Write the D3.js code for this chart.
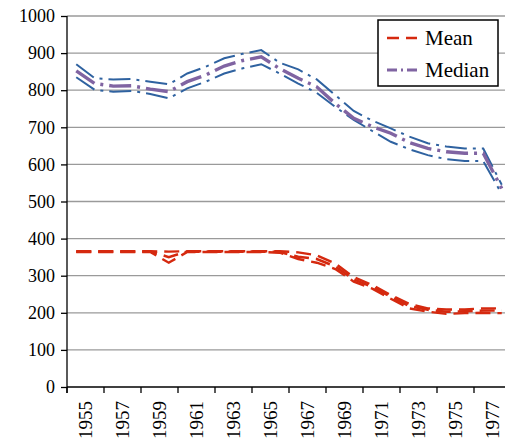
<!DOCTYPE html>
<html>
<head>
<meta charset="utf-8">
<script src="https://cdn.jsdelivr.net/npm/d3@7"></script>
<style>
  body { margin: 0; background: #fff; }
  svg { display: block; }
</style>
</head>
<body>
<svg width="505" height="444"></svg>
<script>
// Categories
const years = [1955, 1956, 1957, 1958, 1959, 1960, 1961, 1962, 1963, 1964, 1965, 1966,
               1967, 1968, 1969, 1970, 1971, 1972, 1973, 1974, 1975, 1976, 1977, 1978];
const labelYears = [1955, 1957, 1959, 1961, 1963, 1965, 1967, 1969, 1971, 1973, 1975, 1977];
const yTicks = [0, 100, 200, 300, 400, 500, 600, 700, 800, 900, 1000];

// Median and its bands
const medianUpper = [870, 832, 829, 830, 823, 816, 845, 863, 886, 898, 908, 874,
                     856, 829, 787, 744, 718, 697, 675, 657, 648, 643, 643, 545];
const median      = [852, 818, 811, 812, 803, 796, 823, 841, 865, 880, 890, 858,
                     832, 809, 764, 724, 702, 684, 659, 643, 634, 630, 630, 535];
const medianLower = [835, 801, 796, 798, 790, 778, 805, 823, 845, 859, 870, 845,
                     818, 793, 755, 720, 690, 661, 641, 625, 614, 609, 609, 520];

// Mean and its bands
const meanUpper = [366, 366, 366, 366, 366, 365, 366, 366, 366, 366, 366, 366,
                   363, 355, 333, 296, 275, 248, 224, 212, 209, 209, 212, 212];
const mean      = [365, 365, 365, 365, 365, 350, 365, 365, 365, 365, 365, 364,
                   351, 345, 325, 290, 270, 243, 218, 208, 203, 204, 206, 206];
const meanLower = [364, 364, 364, 364, 364, 335, 364, 364, 364, 364, 364, 362,
                   345, 335, 318, 284, 265, 238, 212, 203, 197, 199, 200, 199];

const font = "'Liberation Serif', 'Times New Roman', Times, serif";

const svg = d3.select("svg");
const plotLeft = 67, plotTop = 16, plotBottom = 387, plotRight = 511;

const x = d3.scaleBand().domain(years).range([plotLeft, plotRight]);
const y = d3.scaleLinear().domain([0, 1000]).range([plotBottom, plotTop]);
const bw = x.bandwidth();

// Gridlines
svg.append("g")
    .selectAll("line")
    .data(yTicks.filter(d => d > 0))
    .enter()
    .append("line")
    .attr("x1", plotLeft).attr("x2", plotRight)
    .attr("y1", d => y(d)).attr("y2", d => y(d))
    .attr("stroke", "#9a9a9a")
    .attr("stroke-width", 1.3);

// Y axis
const yAxis = svg.append("g")
    .attr("transform", `translate(${plotLeft},0)`)
    .call(d3.axisLeft(y).tickValues(yTicks).tickFormat(d3.format("d")).tickSize(6).tickPadding(6));
yAxis.attr("font-family", null).attr("font-size", null);
yAxis.select(".domain").remove();
yAxis.append("line")
    .attr("x1", 0).attr("x2", 0)
    .attr("y1", plotTop).attr("y2", plotBottom + 6)
    .attr("stroke", "#000").attr("stroke-width", 1.3);
yAxis.selectAll(".tick line").attr("stroke", "#000").attr("stroke-width", 1.3);
yAxis.selectAll(".tick text")
    .style("font-family", font)
    .style("font-size", "18px")
    .attr("fill", "#000");

// X axis
const xAxis = svg.append("g");
xAxis.append("line")
    .attr("x1", plotLeft).attr("x2", plotRight)
    .attr("y1", plotBottom).attr("y2", plotBottom)
    .attr("stroke", "#000").attr("stroke-width", 1.3);
xAxis.selectAll(".xtick")
    .data(labelYears)
    .enter()
    .append("line")
    .attr("x1", d => x(d)).attr("x2", d => x(d))
    .attr("y1", plotBottom).attr("y2", plotBottom + 6)
    .attr("stroke", "#000").attr("stroke-width", 1.3);
xAxis.selectAll(".xlabel")
    .data(labelYears)
    .enter()
    .append("text")
    .attr("transform", d => `translate(${x(d) + bw},${plotBottom + 14}) rotate(-90)`)
    .attr("text-anchor", "end")
    .attr("dy", "0.35em")
    .style("font-family", font)
    .style("font-size", "19px")
    .text(d => d);

const line = d3.line()
    .x((d, i) => x(years[i]) + bw / 2)
    .y(d => y(d));

const red = "#d5290f", purple = "#8064a2", blue = "#2f62a0";

const series = [
    { values: meanUpper, color: red, width: 2.4, dash: "15,7" },
    { values: meanLower, color: red, width: 2.4, dash: "15,7" },
    { values: mean, color: red, width: 2.6, dash: "15,7" },
    { values: medianUpper, color: blue, width: 2, dash: "22,6,3,6" },
    { values: medianLower, color: blue, width: 2, dash: "22,6,3,6" },
    { values: median, color: purple, width: 3.4, dash: "22,6,3,6" }
];

svg.append("g")
    .selectAll("path")
    .data(series)
    .enter()
    .append("path")
    .attr("d", d => line(d.values))
    .attr("fill", "none")
    .attr("stroke", d => d.color)
    .attr("stroke-width", d => d.width)
    .attr("stroke-dasharray", d => d.dash);

// Legend
const legend = svg.append("g").attr("transform", "translate(378,20)");
legend.append("rect")
    .attr("width", 120).attr("height", 66)
    .attr("fill", "#fff")
    .attr("stroke", "#000")
    .attr("stroke-width", 1.5);

const legendItems = [
    { name: "Mean", color: red, width: 2.6, dash: "12,7" },
    { name: "Median", color: purple, width: 3.2, dash: "10,4,2,4" }
];
legendItems.forEach((item, i) => {
    const ly = 18 + i * 32;
    legend.append("line")
        .attr("x1", 9).attr("x2", 39)
        .attr("y1", ly).attr("y2", ly)
        .attr("stroke", item.color)
        .attr("stroke-width", item.width)
        .attr("stroke-dasharray", item.dash);
    legend.append("text")
        .attr("x", 47).attr("y", ly)
        .attr("dy", "0.35em")
        .style("font-family", font)
        .style("font-size", "21px")
        .text(item.name);
});
</script>
</body>
</html>
